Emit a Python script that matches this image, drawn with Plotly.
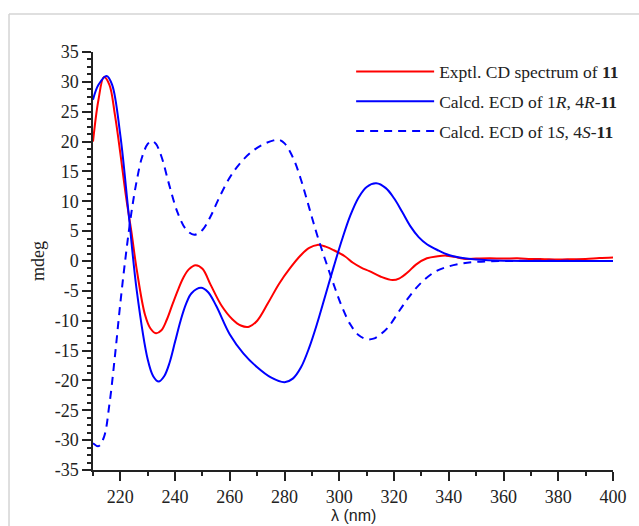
import plotly.graph_objects as go

# Experimental CD spectrum of 11
exp_wl = [210, 212, 214, 216, 218, 220, 222, 224, 226, 229, 231, 233, 235, 237, 239,
          241, 243, 245, 247.5, 250, 253, 257, 261, 264, 267, 270, 274, 278, 282, 286, 289,
          292, 295, 298, 302, 305, 308, 311, 315, 319.5, 322, 325, 328, 332, 336, 339,
          342, 346, 350, 355, 360, 365, 370, 375, 380, 385, 390, 395, 400]
exp_cd = [20, 27, 30.8, 29.5, 24.5, 18, 11, 5, -1.5, -9, -11.3, -12.1, -11.6, -9.8, -7.3,
          -4.9, -2.8, -1.4, -0.7, -1.3, -4, -7.5, -9.8, -10.8, -11, -10, -7, -3.8, -1.2, 1.0, 2.2,
          2.7, 2.4, 1.8, 0.8, -0.3, -1.1, -1.7, -2.6, -3.2, -2.9, -1.9, -0.6, 0.45, 0.8, 0.9,
          0.7, 0.35, 0.4, 0.45, 0.4, 0.45, 0.35, 0.3, 0.25, 0.3, 0.35, 0.5, 0.6]

# Calculated ECD of 1R,4R-11
rr_wl = [210, 212, 215, 217, 220, 223, 226, 230, 232, 234, 236, 238, 240, 242, 244,
         246, 249.5, 252, 255, 260, 265, 270, 275, 280, 283, 286, 289, 292, 295, 298,
         301, 304, 307, 310, 313.5, 317, 320, 323, 326, 329, 332, 336, 340, 345, 350,
         360, 380, 400]
rr_cd = [27, 29.5, 31, 29.5, 21, 8, -5, -16.5, -19.3, -20.2, -19.3, -17, -13.5, -10, -7.2,
         -5.4, -4.5, -5.2, -7.5, -12.3, -15.5, -17.8, -19.5, -20.3, -19.7, -17.8, -14.5, -10.3, -5.6, -0.9,
         3.6, 7.6, 10.6, 12.4, 13, 12.2, 10.5, 8.2, 5.8, 4.0, 2.8, 1.8, 1.0, 0.5, 0.25,
         0.05, 0, 0]

# Calculated ECD of 1S,4S-11
ss_wl = [210, 212, 214, 216, 218, 220, 222, 224, 226, 228, 230, 231.5, 233, 235, 238,
         241, 244, 247, 250, 253, 256, 260, 264, 268, 272, 276, 278, 280, 282, 284,
         286, 288, 290, 292, 295, 298, 301, 304, 307, 310, 312.5, 315, 318, 322, 326,
         330, 335, 340, 345, 350, 360, 400]
ss_cd = [-30.5, -31, -29.5, -24, -16, -7, 1, 8, 13.5, 17.5, 19.6, 20.1, 19.6, 17.5, 12.5,
         8, 5.3, 4.4, 5.2, 7.5, 10.5, 14, 16.5, 18.3, 19.5, 20.2, 20.3, 19.7, 18.3, 16.3,
         13.6, 10.5, 7.3, 4.2, 0, -4, -7.7, -10.6, -12.4, -13.1, -13, -12.3, -11, -8.3, -5.7,
         -3.6, -1.8, -0.9, -0.4, -0.15, 0, 0]

y_ticks = [35, 30, 25, 20, 15, 10, 5, 0, -5, -10, -15, -20, -25, -30, -35]
y_tick_text = ["35", "30", "25", "20", "15", "10", "5", "0", "-5", "-10", "-15", "-20",
               "-25", "-30", "-35"]

serif = "Liberation Serif"
sans = "Liberation Sans"

fig = go.Figure()
fig.add_trace(go.Scatter(x=exp_wl, y=exp_cd, mode="lines",
                         line=dict(color="#ff0000", width=2, shape="spline", smoothing=1),
                         name="Exptl. CD spectrum of <b>11</b>", legendgroup="a"))
fig.add_trace(go.Scatter(x=rr_wl, y=rr_cd, mode="lines",
                         line=dict(color="#0000ff", width=2, shape="spline", smoothing=1),
                         name="Calcd. ECD of 1<i>R</i>, 4<i>R</i>-<b>11</b>", legendgroup="b"))
fig.add_trace(go.Scatter(x=ss_wl, y=ss_cd, mode="lines",
                         line=dict(color="#0000ff", width=2, shape="spline", smoothing=1,
                                   dash="8px,6px"),
                         name="Calcd. ECD of 1<i>S</i>, 4<i>S</i>-<b>11</b>", legendgroup="c"))

axis_col = "#222222"
fig.update_layout(
    width=639, height=526,
    margin=dict(l=93, r=26, t=52, b=56, autoexpand=False),
    paper_bgcolor="white", plot_bgcolor="white",
    font=dict(family=serif, size=18, color="#222"),
    showlegend=True,
    legend=dict(x=0.4964, y=0.996, xanchor="left", yanchor="top",
                font=dict(family=serif, size=17.5, color="#222"),
                bgcolor="rgba(0,0,0,0)", itemwidth=78, tracegroupgap=4),
    xaxis=dict(range=[210, 400], tickmode="linear", tick0=220, dtick=20,
               ticks="outside", ticklen=9, tickwidth=1.5, tickcolor=axis_col,
               ticklabelstandoff=1, automargin=False,
               showline=True, linecolor=axis_col, linewidth=1.5,
               showgrid=False, zeroline=False,
               minor=dict(tickmode="linear", tick0=210, dtick=10, ticks="outside",
                          ticklen=4, tickwidth=1.5, tickcolor=axis_col, showgrid=False),
               tickfont=dict(family=serif, size=18, color="#222")),
    yaxis=dict(range=[-35, 35], tickmode="array", tickvals=y_ticks, ticktext=y_tick_text,
               ticks="outside", ticklen=9, tickwidth=1.5, tickcolor=axis_col,
               automargin=False,
               showline=True, linecolor=axis_col, linewidth=1.5,
               showgrid=False, zeroline=False,
               minor=dict(tickmode="linear", tick0=-35, dtick=1.25, ticks="outside",
                          ticklen=4, tickwidth=1.5, tickcolor=axis_col, showgrid=False),
               tickfont=dict(family=serif, size=18, color="#222"),
               title=dict(text="mdeg", font=dict(family=serif, size=18, color="#222"),
                          standoff=5)),
)

# x-axis title placed below the tick labels
fig.add_annotation(text="λ (nm)", xref="paper", yref="paper", x=0.5, y=-0.1077,
                   xanchor="center", yanchor="middle", showarrow=False,
                   borderpad=0, font=dict(family=sans, size=16, color="#222"))

# light grey frame of the figure panel
fig.add_shape(type="line", xref="paper", yref="paper", x0=-0.1615, y0=-0.14,
              x1=-0.1615, y1=1.091, line=dict(color="#d4d4d4", width=1.5))
fig.add_shape(type="line", xref="paper", yref="paper", x0=-0.1615, y0=1.091,
              x1=1.06, y1=1.091, line=dict(color="#d4d4d4", width=1.5))

fig.write_html("out.html", config={"displayModeBar": False},
               post_script="document.body.style.margin='0px';document.body.style.overflow='hidden';")
